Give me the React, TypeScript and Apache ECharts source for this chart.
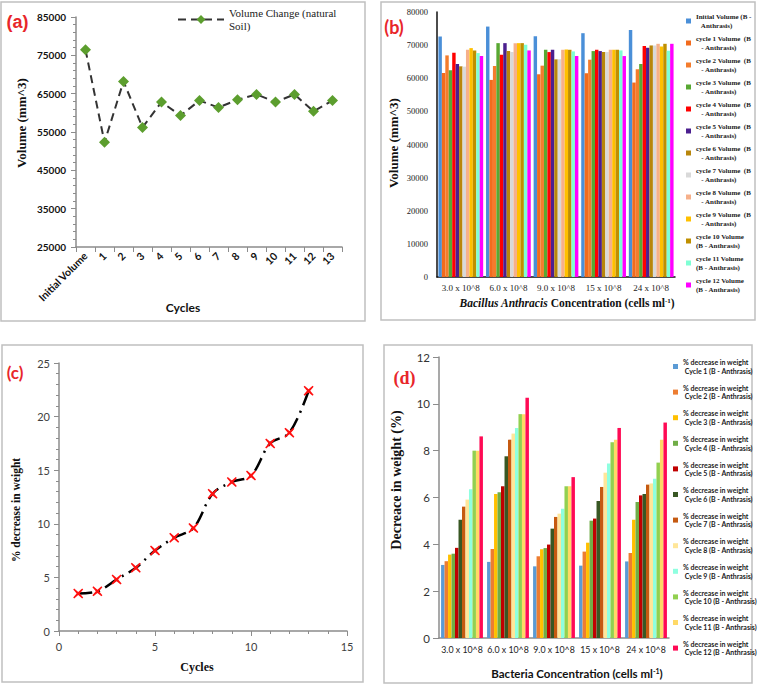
import { useEffect, useRef } from "react";
import * as echarts from "echarts";

// ---------- Panel (a) ----------
const cyclesA = ["Initial Volume", "1", "2", "3", "4", "5", "6", "7", "8", "9", "10", "11", "12", "13"];
const volumeNatural = [76450, 52300, 68200, 56200, 62800, 59300, 63200, 61400, 63400, 64800, 62800, 64800, 60400, 63200];
const volumeTicksA = { min: 25000, max: 85000, interval: 10000 };

// ---------- Panel (b) ----------
const concentrations = ["3.0 x 10^8", "6.0 x 10^8", "9.0 x 10^8", "15 x 10^8", "24 x 10^8"];
const volumeSeriesNames = [
  "Initial Volume (B - Anthrasis)",
  "cycle 1 Volume  (B - Anthrasis)",
  "cycle 2 Volume  (B - Anthrasis)",
  "cycle 3 Volume  (B - Anthrasis)",
  "cycle 4 Volume  (B - Anthrasis)",
  "cycle 5 Volume  (B - Anthrasis)",
  "cycle 6 Volume  (B - Anthrasis)",
  "cycle 7 Volume  (B - Anthrasis)",
  "cycle 8 Volume  (B - Anthrasis)",
  "cycle 9 Volume  (B - Anthrasis)",
  "cycle 10 Volume (B - Anthrasis)",
  "cycle 11 Volume (B - Anthrasis)",
  "cycle 12 Volume (B - Anthrasis)",
];
const volumeLegendLabels = [
  "Initial Volume (B -\n   Anthrasis)",
  "cycle 1 Volume  (B\n   - Anthrasis)",
  "cycle 2 Volume  (B\n   - Anthrasis)",
  "cycle 3 Volume  (B\n   - Anthrasis)",
  "cycle 4 Volume  (B\n   - Anthrasis)",
  "cycle 5 Volume  (B\n   - Anthrasis)",
  "cycle 6 Volume  (B\n   - Anthrasis)",
  "cycle 7 Volume  (B\n   - Anthrasis)",
  "cycle 8 Volume  (B\n   - Anthrasis)",
  "cycle 9 Volume  (B\n   - Anthrasis)",
  "cycle 10 Volume\n(B - Anthrasis)",
  "cycle 11 Volume\n(B - Anthrasis)",
  "cycle 12 Volume\n(B - Anthrasis)",
];
const volInitial = [72600, 75600, 72700, 73600, 74600];
const volCycle1 = [61600, 59500, 61200, 61500, 58700];
const volCycle2 = [66900, 63700, 63800, 65600, 62700];
const volCycle3 = [62400, 70600, 68600, 68200, 64300];
const volCycle4 = [67700, 67100, 67900, 68600, 69700];
const volCycle5 = [64300, 70600, 68600, 68200, 69200];
const volCycle6 = [63600, 68200, 65700, 67900, 69900];
const volCycle7 = [63500, 67900, 65700, 67900, 69900];
const volCycle8 = [68600, 70600, 68600, 68600, 70400];
const volCycle9 = [69100, 70600, 68700, 68600, 69600];
const volCycle10 = [68400, 70600, 68600, 68600, 70400];
const volCycle11 = [67600, 70100, 68100, 68400, 68300];
const volCycle12 = [66700, 68400, 66700, 66700, 70400];
const volumeData = [volInitial, volCycle1, volCycle2, volCycle3, volCycle4, volCycle5, volCycle6, volCycle7, volCycle8, volCycle9, volCycle10, volCycle11, volCycle12];
const volumeColors = ["#4a8fd8", "#f26b1d", "#f47c2c", "#58a832", "#ff0000", "#4b1f8f", "#b8860b", "#d9d9d9", "#f6b08a", "#ffc000", "#bf8f00", "#7fffd4", "#ff00ff"];

// ---------- Panel (c) ----------
const cyclesC = [1, 2, 3, 4, 5, 6, 7, 8, 9, 10, 11, 12, 13];
const weightDecrease = [3.5, 3.7, 4.8, 5.9, 7.5, 8.7, 9.6, 12.8, 13.9, 14.5, 17.5, 18.5, 22.4];

// ---------- Panel (d) ----------
const weightSeriesNames = Array.from({ length: 12 }, (_, i) => `% decrease in weight Cycle ${i + 1} (B - Anthrasis)`);
const wCycle1 = [3.12, 3.25, 3.06, 3.09, 3.27];
const wCycle2 = [3.28, 3.8, 3.49, 3.69, 3.63];
const wCycle3 = [3.56, 6.15, 3.79, 4.07, 5.05];
const wCycle4 = [3.6, 6.22, 3.84, 5.01, 5.81];
const wCycle5 = [3.85, 6.48, 3.99, 5.1, 6.09];
const wCycle6 = [5.05, 7.76, 4.67, 5.85, 6.15];
const wCycle7 = [5.61, 8.47, 5.17, 6.45, 6.55];
const wCycle8 = [5.91, 8.73, 5.31, 7.06, 6.6];
const wCycle9 = [6.35, 8.97, 5.52, 7.45, 6.8];
const wCycle10 = [8.0, 9.56, 6.48, 8.36, 7.49];
const wCycle11 = [8.0, 9.56, 6.48, 8.47, 8.47];
const wCycle12 = [8.61, 10.26, 6.87, 8.97, 9.2];
const weightData = [wCycle1, wCycle2, wCycle3, wCycle4, wCycle5, wCycle6, wCycle7, wCycle8, wCycle9, wCycle10, wCycle11, wCycle12];
const weightColors = ["#5b9bd5", "#ed7d31", "#ffc000", "#70ad47", "#c00000", "#385723", "#c55a11", "#ffe699", "#8fffe0", "#92d050", "#ffd966", "#ff0a54"];

const SERIF = '"Liberation Serif", "Times New Roman", serif';
const SANS = 'Lato, "Noto Sans", sans-serif';
const ARIAL = '"Liberation Sans", Arial, sans-serif';
const RED = "#e8262a";
const GREY_AXIS = "#8c8c8c";
const plain = (v: number) => String(v);

function buildOption(): any {
  const borders = [
    [1, 2, 364, 319],
    [381, 2, 374, 318],
    [2, 345, 361, 337],
    [384, 345, 368, 338],
  ].map(([x, y, w, h]) => ({
    type: "rect",
    shape: { x, y, width: w, height: h },
    style: { fill: "none", stroke: "#c0c0c0", lineWidth: 1.5 },
    silent: true,
  }));

  const txt = (text: string, x: number, y: number, font: string, fill = "#111", rotation = 0, rich?: any) => ({
    type: "text",
    x,
    y,
    rotation,
    style: {
      text,
      font,
      fill,
      align: "center",
      verticalAlign: "middle",
      textAlign: "center",
      textVerticalAlign: "middle",
      rich,
    },
    silent: true,
  });

  const graphics = [
    ...borders,
    txt("(a)", 17.5, 22, `bold 18px ${ARIAL}`, RED),
    txt("(b)", 394, 27, `bold 18px ${SANS}`, RED),
    txt("(c)", 15, 372, `bold 17px ${SANS}`, RED),
    txt("(d)", 404.5, 378, `bold 18px ${SERIF}`, RED),
    txt("Volume (mm^3)", 21, 123, `bold 13px ${SERIF}`, "#111", Math.PI / 2),
    txt("Cycles", 183, 307, `bold 12px ${SANS}`, "#111"),
    txt("Volume (mm^3)", 393, 143, `bold 13px ${SERIF}`, "#111", Math.PI / 2),
    txt("{i|Bacillus Anthracis} Concentration (cells ml{s|-1})", 567, 303, `bold 11.5px ${SERIF}`, "#111", 0, {
      i: { fontStyle: "italic", fontWeight: "bold", fontSize: 11.5, fontFamily: SERIF, fill: "#111" },
      s: { fontWeight: "bold", fontSize: 7, fontFamily: SERIF, verticalAlign: "top", fill: "#111" },
    }),
    txt("% decrease in weight", 16, 510, `bold 11.5px ${SERIF}`, "#111", Math.PI / 2),
    txt("Cycles", 197, 667, `bold 12px ${SERIF}`, "#111"),
    txt("Decreace in weight (%)", 396, 480, `bold 14px ${SERIF}`, "#111", Math.PI / 2),
    txt("Bacteria Concentration (cells ml{s|-1})", 577, 673, `bold 11.5px ${SANS}`, "#111", 0, {
      s: { fontWeight: "bold", fontSize: 7, fontFamily: SANS, verticalAlign: "top", fill: "#111" },
    }),
  ];

  const greyLine = { show: true, lineStyle: { color: GREY_AXIS, width: 1.5 } };

  const xSymbol = "path://M1,0 L5,3.4 L9,0 L10,1 L6.6,5 L10,9 L9,10 L5,6.6 L1,10 L0,9 L3.4,5 L0,1 Z";

  return {
    animation: false,
    backgroundColor: "#fff",
    graphic: { elements: graphics },
    grid: [
      { left: 76, top: 17, width: 266, height: 230 },
      { left: 437, top: 12, width: 238, height: 265 },
      { left: 59, top: 363, width: 288, height: 268 },
      { left: 439, top: 357, width: 230, height: 281 },
    ],
    legend: [
      {
        data: ["Volume Change (natural Soil)"],
        left: 177,
        top: 0,
        padding: 0,
        itemWidth: 46,
        itemHeight: 11,
        formatter: () => "Volume Change (natural\nSoil)",
        textStyle: { fontFamily: SERIF, fontSize: 11, color: "#222", lineHeight: 13, padding: [13, 0, 0, 0] },
      },
      {
        data: volumeSeriesNames,
        orient: "vertical",
        left: 686,
        top: 12,
        padding: 0,
        itemWidth: 5,
        itemHeight: 5,
        itemGap: 4,
        icon: "rect",
        formatter: (name: string) => volumeLegendLabels[volumeSeriesNames.indexOf(name)],
        textStyle: { fontFamily: SERIF, fontWeight: "bold", fontSize: 7, lineHeight: 9, color: "#222" },
      },
      {
        data: weightSeriesNames,
        orient: "vertical",
        left: 673,
        top: 358,
        padding: 0,
        itemWidth: 5,
        itemHeight: 5,
        itemGap: 8.6,
        icon: "rect",
        formatter: (name: string) => {
          const i = weightSeriesNames.indexOf(name);
          return `% decrease in weight\n Cycle ${i + 1} (B - Anthrasis)`;
        },
        textStyle: { fontFamily: SANS, fontWeight: "bold", fontSize: 7, lineHeight: 8.5, color: "#222" },
      },
    ],
    xAxis: [
      {
        type: "category",
        gridIndex: 0,
        data: cyclesA,
        boundaryGap: true,
        axisLine: greyLine,
        axisTick: { show: true, alignWithLabel: false, length: 5, lineStyle: { color: GREY_AXIS } },
        axisLabel: { rotate: 45, interval: 0, fontFamily: SANS, fontWeight: "bold", fontSize: 10.5, color: "#111", margin: 7 },
        splitLine: { show: false },
      },
      {
        type: "category",
        gridIndex: 1,
        data: concentrations,
        axisLine: { show: true, lineStyle: { color: "#111", width: 1.5 } },
        axisTick: { show: false },
        axisLabel: { interval: 0, fontFamily: SERIF, fontSize: 9, color: "#222", margin: 6 },
      },
      {
        type: "value",
        gridIndex: 2,
        min: 0,
        max: 15,
        interval: 5,
        axisLine: greyLine,
        axisTick: { show: true, length: 5, lineStyle: { color: GREY_AXIS } },
        minorTick: { show: true, splitNumber: 5, length: 3, lineStyle: { color: GREY_AXIS } },
        splitLine: { show: false },
        axisLabel: { fontFamily: SANS, fontSize: 11, color: "#404040", margin: 10 },
      },
      {
        type: "category",
        gridIndex: 3,
        data: concentrations,
        axisLine: greyLine,
        axisTick: { show: false },
        axisLabel: { interval: 0, fontFamily: SANS, fontSize: 8.8, color: "#222", margin: 7 },
      },
    ],
    yAxis: [
      {
        type: "value",
        gridIndex: 0,
        ...volumeTicksA,
        axisLine: greyLine,
        axisTick: { show: true, length: 5, lineStyle: { color: GREY_AXIS } },
        minorTick: { show: true, splitNumber: 5, length: 3, lineStyle: { color: GREY_AXIS } },
        splitLine: { show: false },
        axisLabel: { formatter: plain, fontFamily: SANS, fontWeight: "bold", fontSize: 10, color: "#111", margin: 10 },
      },
      {
        type: "value",
        gridIndex: 1,
        min: 0,
        max: 80000,
        interval: 10000,
        axisLine: { show: true, lineStyle: { color: "#111", width: 1.5 } },
        axisTick: { show: false },
        splitLine: { show: false },
        axisLabel: { formatter: plain, fontFamily: SERIF, fontSize: 8.5, color: "#222", margin: 9 },
      },
      {
        type: "value",
        gridIndex: 2,
        min: 0,
        max: 25,
        interval: 5,
        axisLine: greyLine,
        axisTick: { show: true, length: 5, lineStyle: { color: GREY_AXIS } },
        minorTick: { show: true, splitNumber: 5, length: 3, lineStyle: { color: GREY_AXIS } },
        splitLine: { show: false },
        axisLabel: { fontFamily: SANS, fontSize: 11, color: "#404040", margin: 9 },
      },
      {
        type: "value",
        gridIndex: 3,
        min: 0,
        max: 12,
        interval: 2,
        axisLine: greyLine,
        axisTick: { show: true, length: 6, lineStyle: { color: GREY_AXIS } },
        splitLine: { show: false },
        axisLabel: { fontFamily: SANS, fontSize: 11.5, color: "#333", margin: 9 },
      },
    ],
    series: [
      {
        type: "line",
        name: "Volume Change (natural Soil)",
        xAxisIndex: 0,
        yAxisIndex: 0,
        data: volumeNatural,
        symbol: "diamond",
        symbolSize: 11,
        itemStyle: { color: "#5c9e2e" },
        lineStyle: { color: "#333", width: 2, type: [8, 5] },
      },
      ...volumeSeriesNames.map((name, i) => ({
        type: "bar",
        name,
        xAxisIndex: 1,
        yAxisIndex: 1,
        data: volumeData[i],
        barGap: "0%",
        barCategoryGap: "6%",
        itemStyle: { color: volumeColors[i] },
      })),
      {
        type: "line",
        name: "% decrease in weight",
        xAxisIndex: 2,
        yAxisIndex: 2,
        data: cyclesC.map((c, i) => [c, weightDecrease[i]]),
        smooth: 0.35,
        symbol: xSymbol,
        symbolSize: 10,
        itemStyle: { color: "#ff1010" },
        lineStyle: { color: "#000", width: 2.5, type: [14, 6, 2, 6] },
      },
      ...weightSeriesNames.map((name, i) => ({
        type: "bar",
        name,
        xAxisIndex: 3,
        yAxisIndex: 3,
        data: weightData[i],
        barGap: "0%",
        barCategoryGap: "9%",
        itemStyle: { color: weightColors[i] },
      })),
    ],
  };
}

export default function App() {
  const ref = useRef<HTMLDivElement>(null);
  useEffect(() => {
    if (!ref.current) return;
    const chart = echarts.init(ref.current, null, { renderer: "svg" });
    chart.setOption(buildOption());
    return () => chart.dispose();
  }, []);
  return (
    <div
      ref={ref}
      style={{ position: "absolute", left: 0, top: 0, width: 761, height: 688, background: "#fff" }}
    />
  );
}
